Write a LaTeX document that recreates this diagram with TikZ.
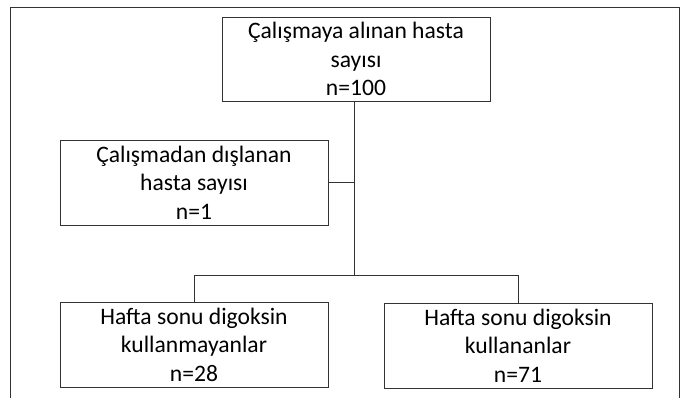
\documentclass[tikz,border=0pt]{standalone}
\usepackage{fontspec}
\setmainfont{Carlito}
\usepackage{tikz}

\begin{document}
\begin{tikzpicture}[x=1pt,y=-1pt,
        box/.style={draw=black!80,line width=0.9pt,minimum width=268pt,minimum height=85pt,
            align=center,inner sep=0pt,font=\fontsize{23.6}{28.5}\selectfont},
        link/.style={draw=black!80,line width=0.9pt}]
        \useasboundingbox (0,0) rectangle (690,397);

        \coordinate (fa) at (10,398);
        \coordinate (fb) at (10,7);
        \coordinate (fc) at (679,7);
        \coordinate (fd) at (679,398);
        \draw[link] (fa) -- (fb) -- (fc) -- (fd);

        \node[box,minimum height=84pt] (total) at (356,59) {Çalışmaya alınan hasta\\sayısı\\n=100};
        \node[box] (excluded) at (194,182.5) {Çalışmadan dışlanan\\hasta sayısı\\n=1};
        \node[box] (nonusers) at (194,344.5) {Hafta sonu digoksin\\kullanmayanlar\\n=28};
        \node[box] (users) at (518,345.5) {Hafta sonu digoksin\\kullananlar\\n=71};

        \coordinate (split) at (354,275);

        \draw[link] (total.south -| split) -- (split);
        \draw[link] (excluded.east) -- (excluded.east -| split);
        \draw[link] (nonusers.north) -- (nonusers.north |- split) -- (users.north |- split) -- (users.north);
    \end{tikzpicture}
\end{document}
